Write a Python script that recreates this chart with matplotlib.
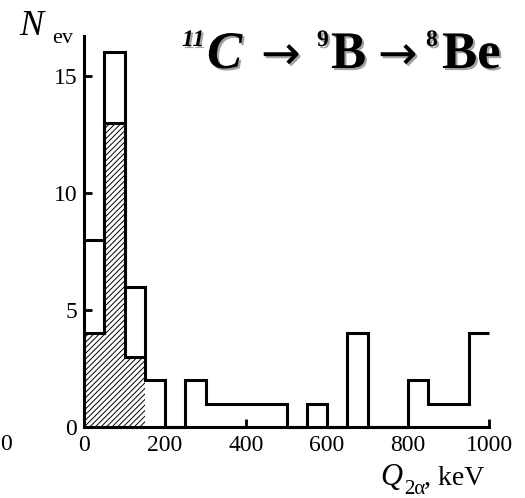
import numpy as np
import matplotlib
matplotlib.use("Agg")
import matplotlib.pyplot as plt
import matplotlib.patheffects as pe

plt.rcParams['font.family'] = ['Liberation Serif', 'DejaVu Serif']
plt.rcParams['hatch.linewidth'] = 0.7

# histogram of Q_2alpha, 50 keV bins
bin_edges = [0, 50, 100, 150, 200, 250, 300, 350, 400, 450, 500,
             550, 600, 650, 700, 750, 800, 850, 900, 950, 1000]
n_all = [8, 16, 6, 2, 0, 2, 1, 1, 1, 1, 0, 1, 0, 4, 0, 0, 2, 1, 1, 4]
n_hatched = [4, 13, 3]          # shaded part, first three bins
xticks = [0, 200, 400, 600, 800, 1000]
yticks = [0, 5, 10, 15]

W, H = 525, 498
fig = plt.figure(figsize=(W / 100, H / 100), dpi=100)
ax = fig.add_axes([84 / W, 1 - 427 / H, 405 / W, 391 / H])

nh = len(n_hatched)
ax.stairs(n_hatched, bin_edges[:nh + 1], fill=True, hatch='//////',
          facecolor='white', edgecolor='black', linewidth=0)
ax.stairs(n_hatched, bin_edges[:nh + 1], baseline=None, color='black',
          linewidth=2.2, clip_on=False)
ax.stairs(n_all, bin_edges, baseline=None, color='black',
          linewidth=2.2, clip_on=False)

ax.set_xlim(0, 1000)
ax.set_ylim(0, 16.7)
for s in ['top', 'right']:
    ax.spines[s].set_visible(False)
for s in ['left', 'bottom']:
    ax.spines[s].set_linewidth(2.2)
ax.set_xticks(xticks)
ax.set_yticks(yticks)
ax.tick_params(direction='in', length=6, width=2, labelsize=17)
ax.tick_params(axis='x', pad=6)
ax.tick_params(axis='y', pad=5)

def px(x, y):
    return x / W, 1 - y / H

# axis labels
fig.text(*px(19, 35), "N", fontsize=26, style='italic', va='baseline')
fig.text(*px(52, 43), "ev", fontsize=16, va='baseline')
fig.text(*px(380, 485), "Q", fontsize=22, style='italic', va='baseline')
fig.text(*px(404, 494), "2\u03b1", fontsize=15, va='baseline')
fig.text(*px(424, 485), ", keV", fontsize=20, va='baseline')
fig.text(*px(0, 450), "0", fontsize=17, va='baseline')

# reaction title with shadow
sh = [pe.SimplePatchShadow(offset=(1.5, -1.5), shadow_rgbFace='0.4', alpha=0.6), pe.Normal()]
pieces = [
    (182, 46, "11", 17, 'italic', 'bold', 'Liberation Serif'),
    (207, 68, "C", 38, 'italic', 'bold', 'Liberation Serif'),
    (261, 69, "\u2192", 34, 'normal', 'normal', 'DejaVu Sans'),
    (317, 46, "9", 17, 'normal', 'bold', 'Liberation Serif'),
    (331, 68, "B", 38, 'normal', 'bold', 'Liberation Serif'),
    (378, 69, "\u2192", 34, 'normal', 'normal', 'DejaVu Sans'),
    (426, 46, "8", 17, 'normal', 'bold', 'Liberation Serif'),
    (442, 68, "Be", 38, 'normal', 'bold', 'Liberation Serif'),
]
for x, y, s, fs, st, wt, fam in pieces:
    fig.text(*px(x, y), s, fontsize=fs, style=st, weight=wt,
             family=fam, va='baseline', path_effects=sh)

fig.savefig("out.png", dpi=100)
